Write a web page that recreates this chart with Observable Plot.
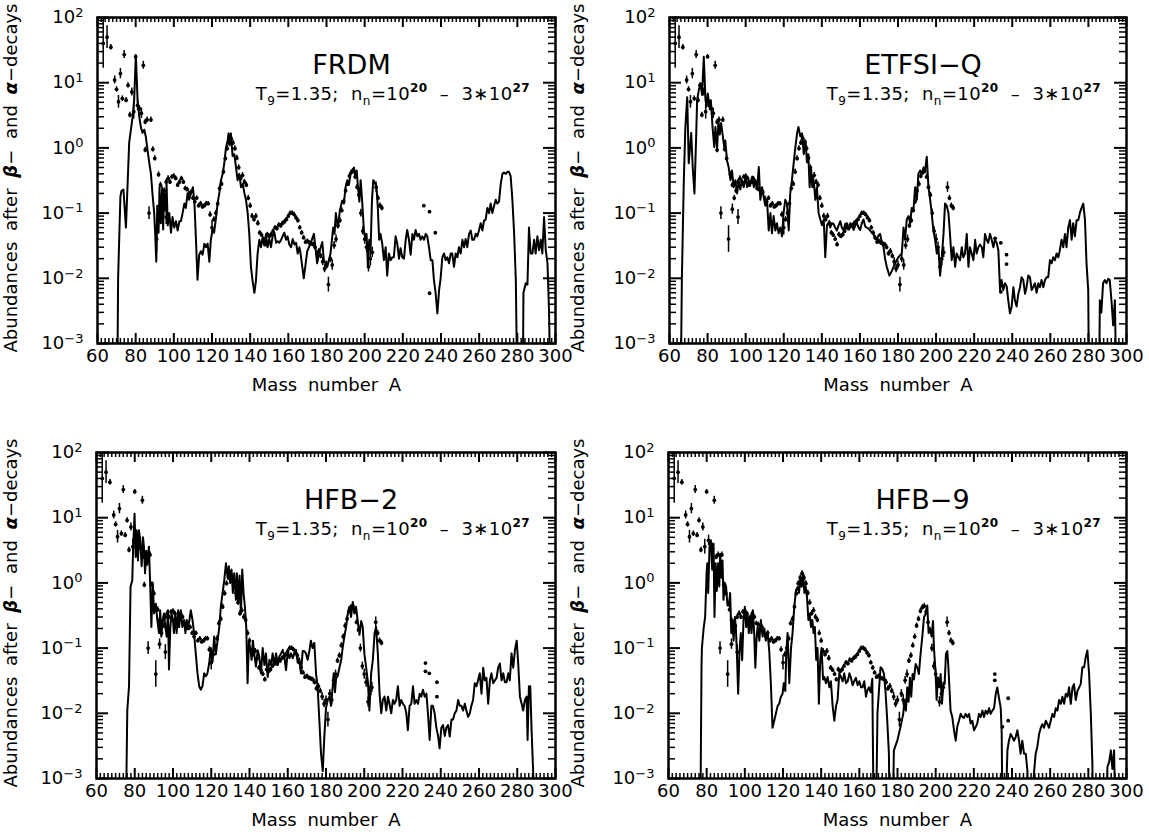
<!DOCTYPE html>
<html><head><meta charset="utf-8">
<script src="https://cdn.jsdelivr.net/npm/d3@7"></script>
<script src="https://cdn.jsdelivr.net/npm/@observablehq/plot@0.6"></script>
<style>
body{margin:0;background:#fff;}
#root{position:relative;width:1149px;height:832px;overflow:hidden;font-family:"DejaVu Sans",sans-serif;color:#000;background:#fff;}
.p{position:absolute;}
.lab{position:absolute;white-space:nowrap;line-height:1;}
.ylab{font-size:18px;word-spacing:5px;transform:translate(-50%,-50%) rotate(-90deg);}
.ylab b{font-style:italic;}
.sub{font-size:18px;letter-spacing:0.4px;transform:translateX(-100%);}
.sb{font-size:12px;position:relative;top:5px;}
.sp{font-size:12px;position:relative;top:-8px;font-weight:bold;}
</style></head><body><div id="root"></div><script>
// ---- observed abundances (points with error bars), shared by all panels ----
const obsA = [63,65,67,69,70,71,72,73,74,75,76,77,78,79,80,81,82,83,84,85,85,86,87,88,89,90,91,92,93,93,94,95,96,96,97,98,99,100,101,102,103,104,105,106,107,108,109,110,111,112,113,114,115,116,117,118,119,120,121,122,123,124,125,126,127,128,129,130,131,132,133,134,135,136,137,138,139,140,141,142,143,144,145,146,147,148,149,150,151,152,153,154,155,156,157,158,159,160,161,162,163,164,165,166,167,168,169,170,171,172,173,174,175,176,177,178,179,180,181,182,183,184,185,186,187,188,189,190,191,192,193,194,195,196,197,198,199,200,201,202,203,204,206,207,208,209];
const obsY = [40,50,35,11,7.9,5.1,13.8,5.7,27,5.4,9.1,3.2,7.2,3.6,25,4.5,4.0,3.4,18.5,2.5,0.93,2.7,0.1,2.7,0.95,0.69,0.04,0.39,0.27,0.115,0.17,0.22,0.3,0.087,0.34,0.3,0.36,0.37,0.34,0.27,0.3,0.34,0.3,0.24,0.23,0.2,0.21,0.17,0.15,0.17,0.13,0.14,0.125,0.13,0.14,0.14,0.095,0.06,0.08,0.1,0.14,0.24,0.28,0.43,0.69,0.98,1.2,1.4,1.2,0.98,0.7,0.5,0.34,0.38,0.3,0.27,0.17,0.13,0.09,0.08,0.09,0.07,0.05,0.046,0.04,0.033,0.047,0.044,0.047,0.053,0.06,0.058,0.066,0.064,0.07,0.074,0.08,0.09,0.1,0.1,0.095,0.085,0.077,0.06,0.05,0.042,0.036,0.037,0.035,0.034,0.033,0.03,0.024,0.026,0.022,0.018,0.014,0.016,0.008,0.02,0.016,0.032,0.04,0.064,0.077,0.11,0.15,0.22,0.28,0.37,0.42,0.44,0.36,0.25,0.19,0.1,0.053,0.04,0.03,0.015,0.02,0.025,0.25,0.17,0.13,0.12];
const obsF = [2.4,1.5,1.1,1.15,1.1,1.25,1.2,1.1,1.15,1.1,1.1,1.1,1.15,1.3,1.08,1.2,1.1,1.2,1.15,1.1,1.1,1.1,1.25,1.1,1.1,1.1,1.6,1.1,1.1,1.2,1.1,1.1,1.1,1.3,1.1,1.08,1.08,1.08,1.08,1.08,1.08,1.08,1.08,1.08,1.08,1.08,1.08,1.08,1.08,1.08,1.08,1.08,1.08,1.08,1.08,1.08,1.1,1.3,1.1,1.1,1.1,1.1,1.1,1.1,1.1,1.1,1.1,1.1,1.1,1.1,1.1,1.1,1.1,1.1,1.1,1.1,1.1,1.1,1.1,1.1,1.1,1.1,1.08,1.08,1.08,1.08,1.08,1.08,1.08,1.08,1.08,1.08,1.08,1.08,1.08,1.08,1.08,1.08,1.08,1.08,1.08,1.08,1.08,1.08,1.08,1.08,1.08,1.08,1.08,1.08,1.08,1.1,1.1,1.1,1.1,1.15,1.15,1.15,1.3,1.15,1.2,1.15,1.15,1.1,1.1,1.1,1.1,1.1,1.1,1.1,1.1,1.1,1.1,1.1,1.1,1.15,1.15,1.2,1.2,1.2,1.3,1.2,1.2,1.1,1.1,1.1,1.1];

// ---- actinide points per model ----
const frdmActA = [231,234,234,237], frdmActY = [0.13,0.105,0.0059,0.05];
const etfsiActA = [231,234,234,237,237], etfsiActY = [0.041,0.035,0.0062,0.023,0.0165];
const hfb2ActA = [232,232,234,238,238], hfb2ActY = [0.059,0.044,0.041,0.03,0.018];
const hfb9ActA = [231,231,235,238,238], hfb9ActY = [0.04,0.032,0.0062,0.017,0.0077];

// ---- model curves [A, abundance]; 1e-4 = below plot floor ----
const frdmLine = [[70.3,1e-4],[70.8,0.01],[72.0,0.18],[72.6,0.22],[73.6,0.23],[74.9,0.06],[76.6,1.2],[78.4,3],[79.2,5.4],[80.1,26],[81.0,5.4],[81.9,3],[82.7,2.1],[83.6,1.7],[84.5,1.9],[85.3,1.5],[86.2,0.93],[87.1,0.6],[88.0,0.4],[88.8,0.2],[89.7,0.1],[90.2,0.05],[90.8,0.018],[91.3,0.13],[92.0,0.05],[92.5,0.25],[93.2,0.07],[93.9,0.25],[94.4,0.056],[94.9,0.2],[95.6,0.11],[96.2,0.28],[96.8,0.065],[97.6,0.1],[98.5,0.05],[99.3,0.087],[100.2,0.06],[101.1,0.075],[102.0,0.054],[102.9,0.075],[103.7,0.075],[104.6,0.1],[105.5,0.14],[106.3,0.12],[107.2,0.2],[108.0,0.16],[109.0,0.2],[110.0,0.25],[110.8,0.14],[111.6,0.039],[112.4,0.0095],[113.3,0.023],[114.2,0.026],[115.1,0.023],[116.0,0.034],[116.8,0.03],[117.7,0.034],[118.6,0.018],[119.4,0.039],[120.3,0.056],[121.1,0.05],[122.0,0.08],[122.9,0.14],[123.8,0.2],[124.7,0.32],[125.6,0.4],[126.4,0.57],[127.3,1.0],[128.2,1.3],[128.7,1.67],[129.2,1.1],[129.9,1.67],[130.8,0.75],[131.7,0.8],[132.6,0.5],[133.4,0.32],[134.3,0.4],[135.2,0.25],[136.1,0.28],[137.0,0.2],[137.8,0.16],[138.7,0.1],[139.5,0.05],[140.4,0.015],[141.3,0.009],[142.2,0.006],[143.0,0.009],[143.9,0.024],[144.8,0.039],[145.7,0.03],[146.5,0.042],[147.4,0.032],[148.3,0.048],[149.1,0.03],[150.0,0.04],[150.9,0.03],[151.8,0.045],[152.7,0.05],[153.6,0.035],[154.4,0.037],[155.3,0.035],[156.2,0.039],[157.0,0.044],[157.9,0.05],[158.8,0.039],[159.6,0.044],[160.5,0.033],[161.4,0.03],[162.3,0.04],[163.2,0.033],[164.1,0.035],[164.9,0.024],[165.8,0.03],[166.4,0.024],[168.1,0.01],[169.9,0.026],[171.6,0.034],[173.4,0.048],[175.1,0.017],[176.0,0.024],[177.8,0.036],[178.6,0.019],[180.4,0.015],[182.1,0.024],[183.5,0.06],[184.2,0.048],[184.9,0.1],[186.0,0.06],[187.0,0.11],[188.2,0.155],[189.1,0.14],[190.0,0.25],[190.9,0.32],[191.7,0.27],[192.6,0.4],[193.5,0.45],[194.4,0.5],[195.1,0.35],[195.8,0.45],[196.5,0.25],[197.2,0.15],[197.9,0.32],[198.7,0.15],[199.6,0.054],[200.5,0.039],[201.0,0.048],[201.7,0.015],[202.4,0.039],[203.1,0.027],[203.8,0.15],[204.5,0.32],[205.2,0.3],[206.2,0.25],[206.9,0.12],[207.6,0.039],[208.3,0.048],[209.2,0.034],[210.1,0.019],[211.0,0.03],[211.8,0.011],[212.7,0.024],[213.6,0.019],[214.5,0.021],[215.3,0.021],[216.2,0.044],[217.1,0.034],[218.0,0.02],[218.8,0.029],[219.7,0.021],[220.6,0.02],[221.5,0.039],[222.3,0.055],[223.2,0.039],[224.1,0.023],[225.0,0.048],[225.8,0.039],[226.7,0.055],[227.6,0.044],[228.5,0.048],[229.3,0.039],[230.2,0.044],[231.1,0.039],[232.0,0.048],[232.8,0.044],[233.7,0.03],[234.6,0.019],[235.5,0.019],[236.3,0.0094],[237.2,0.0059],[238.1,0.0029],[239.0,0.0066],[239.8,0.01],[240.7,0.021],[241.6,0.024],[242.4,0.019],[243.3,0.021],[244.2,0.017],[245.1,0.024],[245.9,0.024],[246.8,0.015],[247.7,0.024],[248.6,0.021],[249.4,0.03],[250.3,0.024],[251.2,0.039],[252.1,0.03],[252.9,0.04],[253.8,0.03],[254.7,0.048],[255.6,0.054],[256.4,0.039],[257.3,0.039],[258.2,0.048],[259.0,0.044],[259.9,0.054],[260.8,0.07],[261.7,0.054],[262.5,0.076],[263.4,0.08],[264.3,0.12],[265.2,0.1],[266.0,0.14],[266.9,0.1],[267.8,0.13],[268.7,0.16],[269.5,0.14],[270.4,0.15],[271.3,0.28],[272.2,0.4],[273.0,0.42],[273.9,0.4],[274.8,0.43],[275.6,0.43],[276.5,0.37],[277.4,0.16],[278.3,0.05],[279.2,0.0095],[280.1,1e-4],[282.8,1e-4],[283.2,0.006],[284.4,0.0084],[285.3,0.008],[286.1,0.06],[287.0,0.024],[287.9,0.024],[288.8,0.039],[289.6,0.024],[290.5,0.044],[291.4,0.027],[292.3,0.039],[293.1,0.024],[294.0,0.087],[294.9,0.027],[295.8,0.017],[296.6,0.0032],[297.5,1e-4]];

const etfsiLine = [[65.8,1e-4],[66.5,0.01],[67.5,0.3],[68.3,2],[69.3,6],[70.1,0.58],[71.4,1.7],[72.2,0.5],[73.1,0.2],[74.0,1.5],[74.5,5.4],[75.4,7.7],[76.3,9.7],[77.1,6.5],[78.0,25],[78.9,5.4],[79.5,4.3],[80.1,6.8],[81.0,4.3],[81.7,5.4],[82.6,2.1],[83.5,1.03],[84.1,2.1],[85.0,1.0],[85.7,2.6],[86.4,1.6],[87.1,2.4],[87.9,1.6],[88.8,1.0],[89.3,1.3],[90.2,0.64],[91.1,0.5],[92.0,0.32],[92.8,0.45],[93.7,0.25],[94.6,0.32],[95.5,0.2],[96.3,0.3],[97.2,0.23],[98.1,0.32],[99.0,0.25],[99.9,0.36],[100.8,0.25],[101.6,0.32],[102.5,0.28],[103.4,0.36],[104.3,0.25],[105.1,0.32],[106.0,0.23],[106.9,0.51],[107.7,0.16],[108.6,0.25],[109.4,0.18],[110.3,0.13],[111.2,0.16],[112.1,0.054],[113.0,0.1],[113.8,0.049],[114.7,0.09],[115.6,0.054],[116.4,0.07],[117.3,0.049],[118.2,0.06],[119.1,0.044],[119.9,0.1],[120.8,0.16],[121.7,0.14],[122.6,0.054],[123.4,0.2],[124.3,0.32],[125.2,0.58],[126.1,1.03],[127.0,1.67],[127.7,2.1],[128.7,1.5],[129.6,1.67],[130.5,0.8],[131.4,1.3],[132.2,0.6],[132.9,0.8],[133.6,0.25],[134.3,0.5],[135.0,0.25],[135.7,0.32],[136.6,0.16],[137.4,0.25],[138.3,0.1],[139.2,0.08],[140.1,0.065],[141.0,0.08],[141.8,0.021],[142.7,0.065],[143.6,0.072],[144.4,0.06],[145.3,0.07],[146.2,0.068],[147.0,0.06],[147.9,0.054],[148.8,0.065],[149.7,0.075],[150.5,0.06],[151.4,0.054],[152.3,0.068],[153.2,0.07],[154.0,0.058],[154.9,0.06],[155.8,0.066],[156.7,0.055],[157.5,0.064],[158.4,0.07],[159.3,0.06],[160.1,0.055],[161.0,0.07],[161.9,0.08],[162.8,0.062],[163.6,0.06],[164.5,0.058],[165.4,0.054],[166.2,0.05],[167.1,0.048],[168.0,0.04],[168.9,0.039],[169.7,0.045],[170.6,0.048],[171.5,0.036],[172.4,0.03],[173.2,0.02],[174.1,0.015],[175.5,0.011],[176.8,0.013],[178.5,0.017],[180.2,0.021],[182.0,0.024],[182.9,0.06],[183.7,0.039],[184.6,0.08],[185.5,0.09],[186.4,0.07],[187.2,0.12],[188.1,0.11],[189.0,0.25],[189.9,0.16],[190.7,0.4],[191.6,0.45],[192.5,0.4],[193.4,0.5],[194.2,0.45],[195.1,0.73],[196.0,0.25],[196.9,0.16],[197.7,0.1],[198.6,0.054],[199.5,0.039],[200.4,0.024],[201.2,0.03],[202.1,0.011],[203.0,0.021],[203.9,0.048],[204.7,0.14],[205.6,0.13],[206.5,0.1],[207.3,0.048],[208.2,0.019],[209.1,0.03],[210.0,0.015],[210.8,0.024],[211.7,0.021],[212.6,0.019],[213.5,0.03],[214.3,0.021],[215.2,0.024],[216.1,0.048],[217.0,0.015],[217.8,0.03],[218.7,0.024],[219.6,0.019],[220.5,0.039],[221.3,0.024],[222.2,0.03],[223.1,0.033],[224.0,0.03],[224.8,0.021],[225.7,0.048],[226.6,0.039],[227.4,0.035],[228.3,0.048],[229.2,0.039],[230.1,0.03],[230.9,0.039],[231.8,0.035],[232.7,0.027],[233.6,0.0066],[234.4,0.0094],[235.3,0.0066],[236.2,0.0084],[237.1,0.0075],[237.9,0.0046],[238.8,0.0029],[239.7,0.0037],[240.6,0.0073],[241.4,0.0046],[242.3,0.0037],[243.2,0.0058],[244.1,0.0073],[244.9,0.0104],[245.8,0.0094],[246.7,0.0058],[247.5,0.0073],[248.4,0.011],[249.3,0.0104],[250.2,0.0066],[251.0,0.0073],[251.9,0.0084],[252.8,0.006],[253.7,0.0084],[254.5,0.0073],[255.4,0.0094],[256.3,0.0073],[257.2,0.0094],[258.0,0.0104],[258.9,0.0104],[259.8,0.019],[260.7,0.017],[261.5,0.021],[262.4,0.019],[263.3,0.024],[264.2,0.021],[265.0,0.027],[265.9,0.039],[266.8,0.03],[267.7,0.048],[268.5,0.03],[269.4,0.06],[270.3,0.078],[271.2,0.039],[272.0,0.07],[272.9,0.044],[273.8,0.078],[274.7,0.078],[275.5,0.1],[276.4,0.12],[277.3,0.14],[278.2,0.078],[279.0,0.017],[279.9,0.0066],[280.4,1e-4],[285.5,1e-4],[286.0,0.0046],[286.8,0.003],[287.7,0.0084],[288.6,0.0094],[289.5,0.0084],[290.4,0.0098],[291.2,0.0094],[292.1,0.0046],[293.0,0.0019],[293.9,0.0046],[294.8,1e-4]];

const hfb2Line = [[75.2,1e-4],[76.1,0.011],[77.0,0.026],[77.8,0.87],[78.7,1.1],[79.2,3.6],[79.9,11.5],[80.5,2.5],[81.0,6.4],[81.7,2.2],[82.2,6.4],[82.9,4.5],[83.6,1.8],[84.3,5],[84.8,3.6],[85.4,1.4],[86.0,3.1],[86.5,1.9],[87.4,3.6],[88.0,1.1],[88.7,0.21],[89.4,1.0],[90.1,0.34],[91.0,0.48],[91.8,0.27],[92.7,0.17],[93.3,0.38],[93.9,0.15],[94.6,0.27],[95.3,0.34],[96.0,0.21],[96.7,0.15],[97.4,0.38],[97.9,0.047],[98.6,0.21],[99.3,0.34],[100.0,0.27],[100.5,0.17],[101.2,0.34],[101.9,0.17],[102.7,0.38],[103.2,0.21],[104.1,0.38],[104.9,0.21],[105.8,0.27],[106.5,0.17],[107.2,0.27],[107.9,0.21],[108.6,0.27],[109.3,0.38],[110.2,0.27],[111.0,0.17],[111.9,0.083],[112.8,0.041],[113.7,0.026],[114.5,0.023],[115.4,0.026],[116.3,0.041],[117.2,0.037],[118.0,0.041],[118.9,0.058],[119.8,0.1],[120.7,0.062],[121.5,0.15],[122.4,0.08],[123.3,0.13],[124.2,0.21],[125.0,0.43],[125.9,0.69],[126.8,1.1],[127.7,2.0],[128.5,1.25],[129.2,1.8],[129.9,1.0],[130.6,1.6],[131.3,0.7],[132.0,1.4],[132.9,0.55],[133.4,1.4],[134.1,0.5],[134.8,1.3],[135.5,0.34],[136.2,1.6],[136.9,0.69],[137.6,0.43],[138.3,0.21],[139.0,0.029],[139.7,0.13],[140.4,0.1],[141.1,0.066],[141.8,0.13],[142.5,0.08],[143.4,0.052],[144.3,0.093],[145.1,0.074],[146.0,0.041],[146.9,0.1],[147.8,0.055],[148.6,0.083],[149.5,0.036],[150.4,0.066],[151.3,0.055],[152.1,0.083],[153.0,0.055],[153.9,0.083],[154.8,0.055],[155.6,0.074],[156.5,0.083],[157.4,0.094],[158.2,0.074],[159.1,0.046],[160.0,0.09],[160.9,0.07],[161.7,0.083],[162.6,0.07],[163.4,0.083],[164.3,0.094],[165.2,0.06],[166.0,0.07],[166.9,0.041],[167.8,0.09],[168.6,0.09],[169.5,0.083],[170.4,0.066],[171.3,0.09],[172.1,0.13],[173.0,0.1],[173.9,0.12],[174.8,0.04],[175.6,0.026],[176.5,0.008],[177.4,0.0024],[178.3,0.0013],[179.1,0.0042],[180.0,0.012],[180.9,0.016],[181.8,0.018],[182.6,0.013],[183.5,0.026],[184.0,0.041],[184.7,0.021],[185.3,0.035],[186.1,0.037],[187.0,0.05],[187.9,0.065],[188.7,0.1],[189.6,0.15],[190.5,0.21],[191.4,0.34],[192.2,0.43],[193.1,0.3],[194.0,0.51],[194.9,0.34],[195.7,0.43],[196.6,0.26],[197.5,0.16],[198.4,0.26],[199.2,0.21],[200.1,0.08],[201.0,0.05],[201.9,0.03],[202.7,0.011],[203.6,0.041],[204.5,0.066],[205.4,0.17],[206.2,0.21],[207.1,0.083],[208.0,0.02],[208.9,0.01],[209.7,0.016],[210.6,0.018],[211.5,0.011],[212.4,0.018],[213.2,0.014],[214.1,0.01],[215.0,0.016],[215.8,0.014],[216.7,0.016],[217.6,0.026],[218.5,0.013],[219.3,0.016],[220.2,0.014],[221.1,0.013],[222.0,0.01],[222.8,0.0055],[223.7,0.013],[224.6,0.014],[225.5,0.026],[226.3,0.014],[227.2,0.016],[228.1,0.014],[229.0,0.02],[229.8,0.018],[230.7,0.023],[231.6,0.018],[232.5,0.02],[233.3,0.01],[234.2,0.0039],[235.1,0.013],[235.9,0.013],[236.8,0.01],[237.7,0.006],[238.6,0.0045],[239.4,0.0029],[240.3,0.006],[241.2,0.0066],[242.1,0.0045],[242.9,0.006],[243.8,0.0066],[244.7,0.0044],[245.6,0.008],[246.4,0.008],[247.3,0.01],[248.2,0.011],[249.1,0.016],[249.9,0.013],[250.8,0.013],[251.7,0.011],[252.6,0.014],[253.4,0.011],[254.3,0.0088],[255.2,0.01],[256.0,0.013],[256.9,0.016],[257.8,0.029],[258.7,0.026],[259.5,0.032],[260.4,0.041],[261.3,0.02],[262.2,0.05],[263.0,0.032],[263.9,0.035],[264.8,0.014],[265.7,0.032],[266.5,0.041],[267.4,0.029],[268.3,0.032],[269.2,0.035],[270.0,0.05],[270.9,0.058],[271.8,0.032],[272.7,0.041],[273.5,0.03],[274.4,0.03],[275.3,0.041],[276.1,0.032],[277.0,0.083],[277.9,0.05],[278.8,0.094],[279.7,0.13],[280.5,0.058],[281.4,0.018],[282.3,0.014],[283.1,0.011],[284.0,0.016],[284.9,0.018],[285.4,0.0039],[286.1,0.026],[286.8,0.026],[287.5,0.0055],[288.4,0.0011],[289.3,1e-4]];

const hfb9Line = [[76.6,1e-4],[77.3,0.05],[77.5,0.1],[78.4,0.2],[79.2,0.3],[80.0,1.5],[80.3,2],[80.8,0.7],[81.5,3.6],[82.2,4.5],[82.9,1.6],[83.6,4],[84.1,0.3],[84.7,2],[85.3,0.75],[86.0,2],[86.6,0.88],[87.1,2.8],[87.8,1.2],[88.3,2.2],[88.8,0.55],[89.5,1.0],[90.2,0.87],[90.9,0.45],[91.6,0.45],[92.3,0.7],[92.9,0.17],[93.6,0.27],[94.1,0.13],[94.8,0.3],[95.3,0.2],[95.8,0.09],[96.5,0.02],[97.2,0.09],[97.9,0.17],[98.6,0.065],[99.3,0.27],[100.0,0.43],[100.7,0.21],[101.4,0.34],[102.1,0.17],[102.8,0.3],[103.5,0.17],[104.2,0.38],[104.9,0.17],[105.5,0.05],[106.2,0.15],[106.7,0.21],[107.6,0.13],[108.4,0.27],[109.3,0.15],[110.2,0.2],[111.0,0.13],[111.9,0.18],[112.8,0.09],[113.7,0.026],[114.5,0.006],[115.4,0.0077],[116.3,0.01],[117.2,0.013],[118.0,0.014],[118.9,0.018],[119.8,0.02],[120.4,0.029],[121.2,0.022],[121.7,0.083],[122.4,0.17],[123.3,0.029],[124.2,0.1],[125.0,0.17],[125.9,0.43],[126.8,0.77],[127.7,0.87],[128.4,0.7],[129.1,1.2],[129.8,0.87],[130.5,1.4],[131.2,0.7],[131.9,0.87],[132.6,0.6],[133.3,0.27],[134.0,0.34],[134.7,0.21],[135.4,0.27],[136.0,0.17],[136.7,0.21],[137.4,0.066],[138.1,0.1],[138.8,0.014],[139.5,0.065],[140.2,0.1],[141.0,0.033],[141.7,0.036],[142.5,0.029],[143.4,0.036],[144.3,0.025],[145.1,0.031],[146.0,0.013],[146.9,0.0077],[147.8,0.013],[148.6,0.016],[149.5,0.041],[150.4,0.036],[151.3,0.031],[152.1,0.041],[153.0,0.029],[153.9,0.031],[154.8,0.041],[155.6,0.035],[156.5,0.027],[157.3,0.031],[158.2,0.035],[159.1,0.027],[160.0,0.031],[160.9,0.025],[161.7,0.025],[162.6,0.031],[163.5,0.018],[164.1,0.022],[165.0,0.025],[165.9,0.021],[166.8,0.034],[167.6,1e-4],[168.6,1e-4],[169.5,0.01],[171.1,0.051],[172.0,0.048],[172.9,0.04],[173.7,0.022],[174.6,0.008],[175.5,0.0024],[176.0,1e-4],[177.3,1e-4],[178.1,0.0027],[179.9,0.0038],[181.6,0.0062],[183.0,0.0098],[183.7,0.016],[184.4,0.011],[185.1,0.025],[185.8,0.015],[186.5,0.035],[187.2,0.018],[187.9,0.04],[188.6,0.033],[189.5,0.057],[190.4,0.05],[191.2,0.04],[192.1,0.082],[193.0,0.15],[193.9,0.3],[194.7,0.33],[195.6,0.45],[196.3,0.17],[197.0,0.2],[197.9,0.15],[198.6,0.26],[199.1,0.1],[200.0,0.04],[200.5,0.016],[201.2,0.035],[201.9,0.025],[202.6,0.04],[203.3,0.014],[204.0,0.028],[204.7,0.028],[205.4,0.082],[206.1,0.09],[206.6,0.055],[207.3,0.022],[207.8,0.011],[208.7,0.0088],[209.6,0.0055],[210.5,0.0038],[211.3,0.0062],[212.2,0.0077],[213.1,0.0098],[214.0,0.0088],[214.8,0.0085],[215.7,0.0098],[216.6,0.0088],[217.5,0.0098],[218.3,0.007],[219.2,0.0077],[220.1,0.0055],[221.0,0.0062],[221.8,0.007],[222.7,0.0098],[223.6,0.0088],[224.5,0.011],[225.3,0.0088],[226.2,0.011],[227.1,0.0098],[228.0,0.012],[228.8,0.0098],[229.7,0.011],[230.6,0.012],[231.5,0.02],[232.3,0.025],[233.2,0.017],[234.1,0.012],[234.6,0.005],[235.1,1e-4],[236.2,1e-4],[237.6,0.0027],[238.4,0.0038],[239.3,0.0048],[240.2,0.0043],[241.0,0.0038],[241.9,0.0043],[242.8,0.0055],[243.7,0.0038],[244.5,0.0024],[245.4,0.0038],[246.3,0.0024],[247.2,0.0024],[248.1,0.0013],[248.9,1e-4],[250.7,1e-4],[251.5,0.0012],[252.4,0.0024],[253.3,0.0031],[254.2,0.0048],[255.1,0.006],[255.9,0.0068],[256.8,0.006],[257.7,0.0077],[258.6,0.0068],[259.4,0.006],[260.3,0.0077],[261.2,0.0098],[262.1,0.0088],[262.9,0.012],[263.8,0.011],[264.7,0.016],[265.6,0.014],[266.4,0.018],[267.3,0.014],[268.2,0.02],[269.1,0.018],[269.9,0.025],[270.8,0.014],[271.7,0.025],[272.5,0.028],[273.4,0.016],[274.3,0.022],[275.2,0.025],[276.0,0.028],[276.9,0.051],[277.8,0.051],[278.6,0.072],[279.5,0.092],[280.4,0.04],[281.3,0.0098],[282.1,0.0018],[282.7,1e-4],[289.1,1e-4],[290.0,0.0015],[290.9,0.0018],[291.8,0.0027],[292.6,0.0014],[293.5,0.0027],[294.4,1e-4]];

// ---- axis ticks / labels ----
const xMajor = [60,80,100,120,140,160,180,200,220,240,260,280,300];
const yMajor = [1e-3,1e-2,1e-1,1,10,100];
const modelNames = ["FRDM","ETFSI\u2212Q","HFB\u22122","HFB\u22129"];
const xLabel = "Mass number A";

const obs = obsA.map((A,i)=>({A, y: obsY[i], lo: obsY[i]/obsF[i], hi: obsY[i]*obsF[i]}));
const xMinor = d3.range(60,301,2).filter(v => v % 20 !== 0);
const yMinor = d3.range(-3,2).flatMap(e => d3.range(2,10).map(k => k*Math.pow(10,e)));

const panels = [
  {name:modelNames[0], line:frdmLine, actA:frdmActA, actY:frdmActY, left:0,   top:0,   w:574, h:416, mt:17, mr:19, mb:73, ml:97},
  {name:modelNames[1], line:etfsiLine, actA:etfsiActA, actY:etfsiActY, left:574, top:0, w:575, h:416, mt:17, mr:23, mb:73, ml:95},
  {name:modelNames[2], line:hfb2Line, actA:hfb2ActA, actY:hfb2ActY, left:0,   top:416, w:574, h:416, mt:36, mr:19, mb:54, ml:96},
  {name:modelNames[3], line:hfb9Line, actA:hfb9ActA, actY:hfb9ActY, left:574, top:416, w:575, h:416, mt:36, mr:23, mb:54, ml:94}
];

const root = document.getElementById("root");
const ff = "DejaVu Sans";

for (const p of panels) {
  const line = p.line.map(([A,y]) => ({A, y}));
  const act = p.actA.map((A,i) => ({A, y: p.actY[i]}));
  const fh = p.h - p.mt - p.mb;  // frame height in px
  const fw = p.w - p.ml - p.mr;  // frame width in px
  // inward ticks: rules spanning the frame, inset so only a short stub remains at each edge
  const tx = (ticks, len, sw) => [
    Plot.ruleX(ticks, {x: d => d, insetTop: fh - len, stroke: "#000", strokeWidth: sw}),
    Plot.ruleX(ticks, {x: d => d, insetBottom: fh - len, stroke: "#000", strokeWidth: sw})
  ];
  const ty = (ticks, len, sw) => [
    Plot.ruleY(ticks, {y: d => d, insetRight: fw - len, stroke: "#000", strokeWidth: sw}),
    Plot.ruleY(ticks, {y: d => d, insetLeft: fw - len, stroke: "#000", strokeWidth: sw})
  ];
  const svg = Plot.plot({
    width: p.w, height: p.h,
    marginTop: p.mt, marginRight: p.mr, marginBottom: p.mb, marginLeft: p.ml,
    x: {domain: [60, 300]},
    y: {type: "log", domain: [1e-3, 1e2]},
    style: {fontFamily: ff, background: "white", color: "black"},
    marks: [
      ...tx(xMajor, 10, 2), ...tx(xMinor, 5, 1.5),
      ...ty(yMajor, 12, 2), ...ty(yMinor, 7, 1.5),
      Plot.line(line, {x: "A", y: "y", stroke: "black", strokeWidth: 2, clip: true, strokeLinejoin: "round"}),
      Plot.ruleX(obs, {x: "A", y1: "lo", y2: "hi", stroke: "black", strokeWidth: 1.5, clip: true}),
      Plot.dot(obs, {x: "A", y: "y", r: 1.9, fill: "black", clip: true}),
      Plot.dot(act, {x: "A", y: "y", r: 1.9, fill: "black", clip: true}),
      Plot.frame({stroke: "black", strokeWidth: 2.5}),
      Plot.axisX(xMajor, {anchor: "bottom", tickSize: 0, tickPadding: 6, fontSize: 18, label: null, fill: "black"}),
      Plot.axisY(yMajor, {anchor: "left", tickSize: 0, tickPadding: 14, fontSize: 18, label: null, fill: "black",
        tickFormat: d => "10^" + Math.round(Math.log10(d))}),
      Plot.text([p.name], {frameAnchor: "top", dx: 25, dy: 56, text: d => d, fontSize: 27, lineAnchor: "bottom", fill: "black"}),
      Plot.text([xLabel], {frameAnchor: "bottom", dy: 47, text: d => d, fontSize: 18, lineAnchor: "bottom", fill: "black"})
    ]
  });
  // superscript exponents on y tick labels
  d3.select(svg).selectAll('g[aria-label="y-axis tick label"] text').each(function() {
    const t = this.textContent.split("^");
    const s = d3.select(this);
    s.text(t[0]);
    s.append("tspan").attr("dy", "-0.5em").attr("font-size", "13px").text(t[1].replace("-", "\u2212"));
  });
  d3.select(svg).selectAll('g[aria-label="text"] text').style("word-spacing", "5px");
  svg.classList.add("p");
  svg.style.left = p.left + "px";
  svg.style.top = p.top + "px";
  root.appendChild(svg);

  // rotated y-axis label
  const yl = document.createElement("div");
  yl.className = "lab ylab";
  yl.innerHTML = 'Abundances after <b>\u03B2</b>\u2212 and <b>\u03B1</b>\u2212decays';
  yl.style.left = (p.left + (p.left ? 4 : 11)) + "px";
  yl.style.top = (p.top + p.mt + fh / 2 - 2) + "px";
  root.appendChild(yl);

  // condition subtitle
  const st = document.createElement("div");
  st.className = "lab sub";
  st.innerHTML = 'T<span class="sb">9</span>=1.35;&nbsp; n<span class="sb">n</span>=10<span class="sp">20</span>&nbsp; \u2013 &nbsp;3\u221710<span class="sp">27</span>';
  st.style.left = (p.left + p.w - p.mr - 25) + "px";
  st.style.top = (p.top + p.mt + 83 - 15) + "px";
  root.appendChild(st);
}
</script></body></html>
